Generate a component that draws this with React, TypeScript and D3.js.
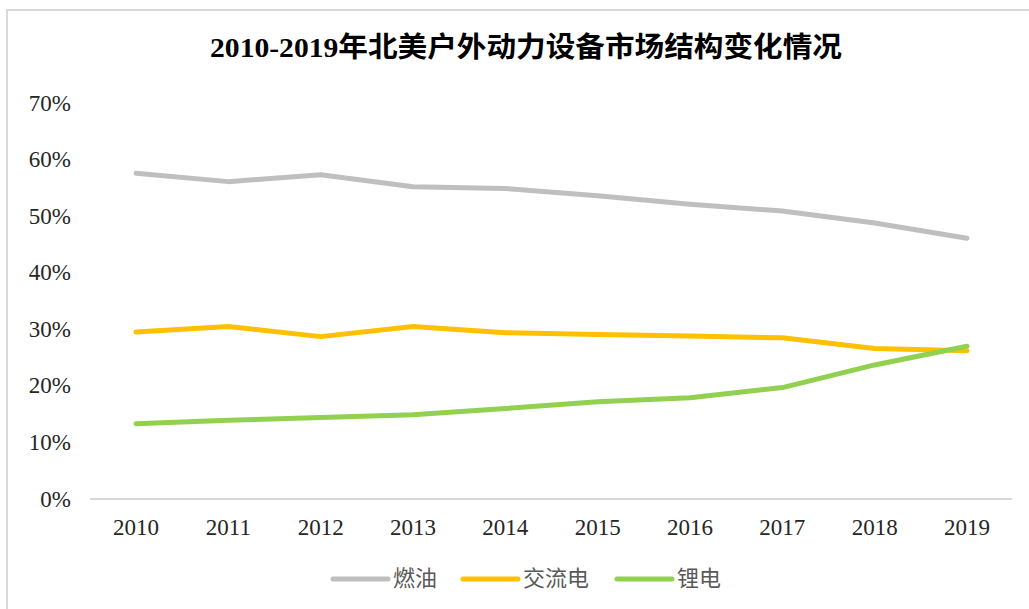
import React from "react";
import * as d3 from "d3";

const years = ["2010", "2011", "2012", "2013", "2014", "2015", "2016", "2017", "2018", "2019"];
const fuel = [57.6, 56.1, 57.3, 55.2, 54.9, 53.6, 52.1, 50.9, 48.8, 46.1];
const acPower = [29.5, 30.5, 28.7, 30.5, 29.4, 29.1, 28.8, 28.5, 26.6, 26.2];
const lithium = [13.3, 13.9, 14.4, 14.9, 16.0, 17.2, 17.9, 19.7, 23.7, 27.0];
const yTicks = [0, 10, 20, 30, 40, 50, 60, 70];
const seriesNames = ["燃油", "交流电", "锂电"];
const seriesColors = ["#BFBFBF", "#FFC000", "#92D050"];
const title = "2010-2019年北美户外动力设备市场结构变化情况";

const W = 1029;
const H = 609;

export default function App() {
  const x = d3.scalePoint<string>().domain(years).range([136, 967]);
  const y = d3.scaleLinear().domain([0, 70]).range([499, 103]);
  const line = d3
    .line<number>()
    .x((_, i) => x(years[i]) as number)
    .y((d) => y(d));
  const series = [fuel, acPower, lithium];
  const serif = "'Liberation Serif', 'Times New Roman', 'Noto Sans CJK SC', serif";
  const legendX = [333, 463, 617];

  return (
    <svg
      width={W}
      height={H}
      style={{ position: "absolute", left: 0, top: 0, background: "#fff" }}
    >
      <rect x={7} y={10} width={1040} height={620} fill="#fff" stroke="#d9d9d9" strokeWidth={2} />
      <text
        x={526}
        y={47}
        textAnchor="middle"
        dominantBaseline="central"
        fontFamily={serif}
        fontWeight="bold"
        fontSize={28}
        fill="#000"
        textLength={632}
        lengthAdjust="spacingAndGlyphs"
      >
        {title}
      </text>
      {yTicks.map((t) => (
        <text
          key={t}
          x={71}
          y={y(t)}
          textAnchor="end"
          dominantBaseline="central"
          fontFamily={serif}
          fontSize={23}
          fill="#262626"
        >
          {t + "%"}
        </text>
      ))}
      <line x1={90} x2={1012} y1={y(0)} y2={y(0)} stroke="#d9d9d9" strokeWidth={2} />
      {years.map((yr) => (
        <text
          key={yr}
          x={x(yr)}
          y={527}
          textAnchor="middle"
          dominantBaseline="central"
          fontFamily={serif}
          fontSize={23}
          fill="#262626"
        >
          {yr}
        </text>
      ))}
      {series.map((s, i) => (
        <path
          key={i}
          d={line(s) || ""}
          fill="none"
          stroke={seriesColors[i]}
          strokeWidth={5}
          strokeLinecap="round"
          strokeLinejoin="round"
        />
      ))}
      {seriesNames.map((n, i) => (
        <g key={n}>
          <line
            x1={legendX[i]}
            x2={legendX[i] + 55}
            y1={579}
            y2={579}
            stroke={seriesColors[i]}
            strokeWidth={5}
            strokeLinecap="round"
          />
          <text
            x={legendX[i] + 60}
            y={578}
            dominantBaseline="central"
            fontFamily={serif}
            fontSize={22}
            fill="#595959"
          >
            {n}
          </text>
        </g>
      ))}
    </svg>
  );
}
